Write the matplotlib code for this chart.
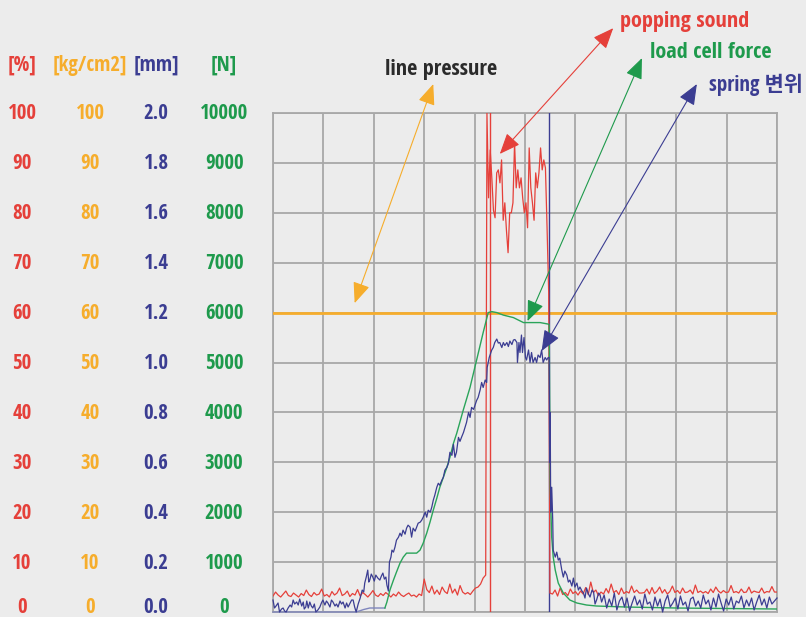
import numpy as np
import matplotlib
matplotlib.use("Agg")
import matplotlib.pyplot as plt

# ---------------- data ----------------
pct_ticks = [0, 10, 20, 30, 40, 50, 60, 70, 80, 90, 100]
kg_ticks = ["0", "10", "20", "30", "40", "50", "60", "70", "80", "90", "100"]
mm_ticks = ["0.0", "0.2", "0.4", "0.6", "0.8", "1.0", "1.2", "1.4", "1.6", "1.8", "2.0"]
n_ticks = ["0", "1000", "2000", "3000", "4000", "5000", "6000", "7000", "8000", "9000", "10000"]
headers = ["[%]", "[kg/cm2]", "[mm]", "[N]"]

line_pressure = 60.0  # constant across the test

# popping sound (%), three segments: before, burst, after
red_pre = [3.2, 4.0, 3.4, 3.0, 3.6, 4.2, 3.3, 3.1, 3.8, 3.4, 3.0, 3.7, 3.3, 4.4, 3.5, 3.1, 3.9, 3.4, 3.6, 4.6, 3.2,
           3.5, 3.0, 4.1, 3.4, 3.8, 4.8, 3.3, 3.6, 4.2, 3.1, 3.7, 3.4, 4.5, 3.2, 3.9, 3.5, 3.0, 3.6, 4.3,
           3.4, 3.1, 3.7, 3.3, 3.9, 3.5, 3.0, 3.6, 3.2, 4.0, 3.4, 3.1, 3.5, 3.8, 3.2, 3.4, 3.0, 3.6, 3.3, 6.6,
           4.5, 3.9, 5.2, 3.6, 4.4, 3.5, 5.0, 4.1, 3.7, 5.6, 3.8, 4.6, 3.4, 5.3, 4.0, 3.6, 3.9, 3.5, 4.2, 4.8,
           5.0, 5.6, 6.8, 7.4]
red_pre_span = (0.0, 4.22)
red_burst = [100, 83, 92.6, 87, 80.5, 79, 88, 88.6, 86, 90.6, 78.5, 82, 76.5, 72, 80, 80, 82, 94, 85, 88.6,
             85, 87, 83, 80, 82, 77, 93, 85, 82, 78.5, 88, 85, 88, 93, 88.6, 90.6, 89, 77, 64]
red_burst_span = (4.245, 5.47)
red_post = [3.8, 3.6, 4.4, 3.2, 4.8, 3.5, 3.9, 3.3, 4.6, 3.7, 4.1,
            3.4, 4.2, 3.6, 4.9, 3.5, 6.0, 3.9, 4.4, 3.3, 4.0, 3.6, 4.7, 3.8, 5.6, 3.9, 4.3, 3.5, 4.8, 3.7,
            4.1, 3.8, 5.2, 3.9, 4.4, 3.8, 3.8, 3.9, 4.6, 3.6, 4.9, 3.7, 4.2, 5.0, 3.8, 4.5, 3.6, 4.1, 5.2, 3.9,
            4.3, 3.7, 4.8, 3.9, 4.0, 4.4, 3.6, 5.4, 3.9, 4.2, 3.8, 4.1, 3.7, 4.6, 3.9, 5.0, 4.2, 3.8, 4.3, 3.9,
            4.0, 5.3, 3.9, 4.1, 3.8, 4.6, 3.9, 4.0, 5.0, 3.8, 4.2, 4.0, 3.9, 4.8, 3.8, 4.1, 4.0, 5.1, 4.0, 4.0]
red_post_span = (5.495, 10.0)

# spring displacement (%) sampled at irregular times
spring_t = [0.00, 0.03, 0.06, 0.10, 0.13, 0.17, 0.20, 0.23, 0.26, 0.30, 0.34, 0.37, 0.40, 0.43, 0.47, 0.50,
            0.53, 0.57, 0.60, 0.62, 0.65, 0.67, 0.70, 0.73, 0.76, 0.79, 0.82, 0.85, 0.89, 0.93, 0.96, 0.99,
            1.03, 1.06, 1.09, 1.13, 1.16, 1.19, 1.23, 1.26, 1.29, 1.33, 1.36, 1.39, 1.43, 1.46, 1.49, 1.53,
            1.56, 1.59, 1.62, 1.65, 1.69, 1.73, 1.77, 1.80, 1.82, 1.85, 1.88, 1.90, 1.92, 1.95, 1.98, 2.01,
            2.04, 2.08, 2.12, 2.15, 2.18, 2.21, 2.24, 2.26, 2.29, 2.31, 2.34, 2.36, 2.39, 2.42, 2.45, 2.49,
            2.52, 2.55, 2.58, 2.62, 2.65, 2.68, 2.72, 2.75, 2.78, 2.82, 2.85, 2.88, 2.92, 2.95, 2.98, 3.02,
            3.05, 3.08, 3.12, 3.15, 3.18, 3.21, 3.25, 3.28, 3.31, 3.35, 3.38, 3.41, 3.45, 3.48, 3.51, 3.55,
            3.58, 3.61, 3.64, 3.68, 3.71, 3.74, 3.78, 3.81, 3.84, 3.88, 3.91, 3.94, 3.98, 4.01, 4.04, 4.07,
            4.11, 4.14, 4.17, 4.21, 4.24, 4.25, 4.29, 4.34, 4.37, 4.40, 4.44, 4.47, 4.50, 4.54, 4.57, 4.60,
            4.64, 4.67, 4.70, 4.74, 4.77, 4.80, 4.84, 4.85, 4.88, 4.90, 4.93, 4.95, 4.98, 5.01, 5.03, 5.07,
            5.10, 5.13, 5.16, 5.20, 5.23, 5.26, 5.30, 5.33, 5.36, 5.40, 5.43, 5.46, 5.48, 5.49, 5.50, 5.51,
            5.53, 5.55, 5.56, 5.60, 5.63, 5.66, 5.69, 5.73, 5.76, 5.79, 5.83, 5.86, 5.89, 5.93, 5.96, 5.99,
            6.03, 6.06, 6.09, 6.13, 6.16, 6.19, 6.22, 6.26, 6.29, 6.33, 6.36, 6.39, 6.42, 6.46, 6.49]
spring_v = [2.4, 0.8, 1.2, 1.8, 0.0, 0.6, 0.8, 0.2, 0.0, 0.8, 1.4, 1.0, 2.4, 1.6, 2.0, 1.4,
            2.6, 1.2, 2.0, 0.6, 1.0, 2.2, 0.8, 2.0, 1.2, 0.8, 1.6, 0.0, 0.4, 1.0, 1.8, 2.4,
            1.4, 2.2, 1.8, 1.0, 2.4, 2.0, 1.2, 1.6, 1.0, 2.2, 1.6, 2.0, 0.8, 1.8, 1.0, 1.8,
            2.4, 2.4, 1.0, 0.0, 1.6, 2.8, 4.4, 4.0, 5.8, 7.0, 8.4, 6.0, 6.4, 7.6, 7.0, 6.2,
            7.4, 6.8, 6.4, 7.2, 7.8, 6.6, 7.0, 5.4, 4.2, 10.0, 11.0, 12.4, 12.0, 13.0, 14.4, 15.0,
            15.8, 15.2, 16.4, 15.6, 16.8, 17.4, 17.0, 15.0, 16.8, 16.2, 17.0, 17.8, 18.0, 18.4, 19.0, 20.0,
            19.0, 20.4, 20.0, 21.0, 22.4, 23.4, 25.0, 25.8, 25.4, 26.4, 27.0, 28.4, 29.0, 29.8, 32.0, 31.4,
            33.6, 31.0, 32.0, 35.0, 34.2, 35.0, 36.0, 37.0, 38.0, 40.0, 39.0, 41.0, 40.6, 41.5, 42.4, 43.0,
            44.5, 46.0, 45.0, 46.5, 46.0, 49.0, 51.0, 52.5, 53.0, 54.0, 54.7, 53.9, 54.0, 53.0, 54.0, 53.4,
            54.0, 53.2, 54.3, 53.6, 54.5, 54.6, 54.0, 50.0, 54.0, 52.0, 55.5, 52.0, 55.0, 51.0, 50.5, 52.5,
            50.0, 52.0, 50.0, 51.0, 50.0, 51.5, 51.0, 52.5, 50.0, 51.0, 50.5, 51.0, 51.0, 30.0, 40.0, 20.0,
            25.0, 18.4, 12.4, 11.0, 12.0, 10.4, 10.8, 8.4, 7.0, 8.2, 7.4, 6.0, 6.4, 5.2, 6.8, 5.0,
            5.8, 4.4, 5.0, 4.2, 3.8, 2.8, 4.8, 3.6, 3.0, 4.4, 4.0, 1.6, 2.4, 3.8, 3.4]
spring_tail = [2.0, 3.4, 0.8, 2.6, 1.2, 3.8, 0.4, 2.2, 3.0, 1.0, 2.8, 0.2, 1.8, 3.2, 1.4, 2.4, 0.6, 3.6, 1.6, 2.0,
               0.4, 3.0, 1.2, 2.6, 0.0, 2.2, 3.4, 1.0, 1.8, 2.8, 0.6, 3.2, 1.4, 2.0, 0.2, 2.6, 3.0, 1.2, 2.2, 0.8,
               3.4, 1.6, 2.4, 0.4, 2.8, 1.0, 3.6, 1.8, 0.2, 2.6, 1.4, 3.0, 0.6, 2.2, 1.8, 3.2, 0.8, 2.4, 1.2, 2.8,
               0.4, 2.0, 3.4, 1.4, 2.6, 0.8, 3.0, 1.6, 2.2, 2.8]
spring_tail_span = (6.52, 10.0)

# load cell force (%)
load_t = [0.00, 1.65, 1.80, 1.92, 2.22,
          2.26, 2.32, 2.39, 2.45, 2.52, 2.585, 2.65, 2.85, 2.917, 2.98, 3.05, 3.115, 3.18, 3.25, 3.31,
          3.38, 3.45, 3.51, 3.58, 3.645, 3.776, 3.909, 4.04, 4.17, 4.27, 4.34, 4.44, 4.57, 4.77, 4.97,
          5.10, 5.30, 5.46, 5.48, 5.50, 5.53, 5.56, 5.60, 5.66, 5.76, 5.89, 6.03, 6.22, 6.42, 7.0, 8.0,
          9.0, 10.0]
load_v = [0.0, 0.0, 0.5, 0.8, 0.8,
          2.0, 4.4, 6.4, 8.0, 9.8, 11.0, 11.8, 11.8, 12.4, 13.8, 15.8, 18.0, 20.4, 22.8, 25.0,
          27.0, 29.0, 31.0, 33.8, 35.8, 40.5, 45.0, 50.5, 56.0, 60.0, 60.2, 60.0, 59.5, 59.0, 58.0,
          58.0, 58.0, 57.7, 57.5, 25.0, 15.0, 11.0, 8.4, 5.8, 3.8, 2.4, 1.8, 1.4, 1.2, 1.0, 0.8,
          0.7, 0.6]
load_slate_end = 5  # first samples drawn in the grey-blue tone

red_cursor = 4.30
blue_cursor = 5.48

# ---------------- style ----------------
RED = "#e5403a"
ORANGE = "#f6ad2c"
NAVY = "#3b3d92"
GREEN = "#2aa45a"
GREEN_TXT = "#1e9a4c"
BG = "#ececec"
GRID = "#a8a8a8"

FONT = ["Liberation Sans Narrow", "Open Sans Condensed", "DejaVu Sans"]
FONT_KR = ["Liberation Sans Narrow", "Open Sans Condensed", "DejaVu Sans", "Noto Sans CJK KR"]
TXT = dict(fontweight="bold", fontstretch="condensed")
TICK_FS = 15
ANN_FS = 16

fig = plt.figure(figsize=(8.06, 6.17), dpi=100, facecolor=BG)
ax = fig.add_axes([273 / 806, 5 / 617, 504 / 806, 499 / 617])
ax.set_facecolor(BG)
ax.set_xlim(0, 10)
ax.set_ylim(0, 100)
ax.set_xticks(np.arange(0, 11, 1))
ax.set_yticks(pct_ticks)
ax.tick_params(length=0, labelbottom=False, labelleft=False)
ax.grid(True, color=GRID, lw=1.3)
for s in ax.spines.values():
    s.set_color(GRID)
    s.set_linewidth(1.3)
ax.set_axisbelow(True)

# line pressure
ax.axhline(line_pressure, color=ORANGE, lw=2.0, zorder=3)

# cursors
ax.axvline(red_cursor, color=RED, lw=1.0, zorder=4)
ax.axvline(blue_cursor, color=NAVY, lw=1.0, zorder=4)

# popping sound
rt = np.concatenate([np.linspace(*red_pre_span, len(red_pre)),
                     np.linspace(*red_burst_span, len(red_burst)),
                     np.linspace(*red_post_span, len(red_post))])
rv = np.concatenate([red_pre, red_burst, red_post])
ax.plot(rt, rv, color=RED, lw=0.9, zorder=5)

# load cell
lt = np.array(load_t)
lv = np.array(load_v)
ax.plot(lt[:load_slate_end], lv[:load_slate_end], color="#7f86bd", lw=1.0, zorder=5, clip_on=False)
ax.plot(lt[load_slate_end - 1:], lv[load_slate_end - 1:], color=GREEN, lw=1.0, zorder=5)

# spring
st = np.concatenate([spring_t, np.linspace(*spring_tail_span, len(spring_tail))])
sv = np.concatenate([spring_v, spring_tail])
ax.plot(st, sv, color=NAVY, lw=0.9, zorder=6, clip_on=False)

# ---------------- axis label columns ----------------
ytrans = ax.get_yaxis_transform()
cols = [(-0.498, RED, [str(v) for v in pct_ticks]),
        (-0.363, ORANGE, kg_ticks),
        (-0.232, NAVY, mm_ticks),
        (-0.097, GREEN_TXT, n_ticks)]
for (xc, col, labels), head in zip(cols, headers):
    for val, lab in zip(pct_ticks, labels):
        ypos = val - 0.2 if val > 0 else 1.0
        ax.text(xc, ypos, lab, transform=ytrans, ha="center", va="center",
                color=col, fontsize=TICK_FS, family=FONT, clip_on=False, **TXT)
    ax.text(xc, 109.6, head, transform=ytrans, ha="center", va="center",
            color=col, fontsize=TICK_FS, family=FONT, clip_on=False, **TXT)

# ---------------- annotations ----------------
def arrow(p_text, p_data, col):
    ax.annotate("", xy=p_text, xytext=p_data,
                arrowprops=dict(arrowstyle="<|-|>,head_length=0.8,head_width=0.33",
                                color=col, lw=0.8, shrinkA=0, shrinkB=0, mutation_scale=16),
                annotation_clip=False, zorder=8)

ax.text(6.885, 118.4, "popping sound", color=RED, fontsize=ANN_FS,
        family=FONT, ha="left", va="center", clip_on=False, **TXT)
arrow((6.75, 117.0), (4.50, 91.8), RED)

ax.text(7.48, 112.2, "load cell force", color=GREEN_TXT, fontsize=ANN_FS,
        family=FONT, ha="left", va="center", clip_on=False, **TXT)
arrow((7.32, 111.0), (5.05, 58.3), GREEN_TXT)

ax.text(8.66, 105.6, "spring 변위", color=NAVY, fontsize=ANN_FS - 1,
        family=FONT_KR, ha="left", va="center", clip_on=False, **TXT)
arrow((8.41, 105.8), (5.33, 52.3), NAVY)

ax.text(2.22, 108.8, "line pressure", color="#2b2b2b", fontsize=ANN_FS,
        family=FONT, ha="left", va="center", clip_on=False, **TXT)
arrow((3.18, 105.8), (1.62, 61.9), ORANGE)

fig.savefig("out.png", dpi=100, facecolor=BG)
